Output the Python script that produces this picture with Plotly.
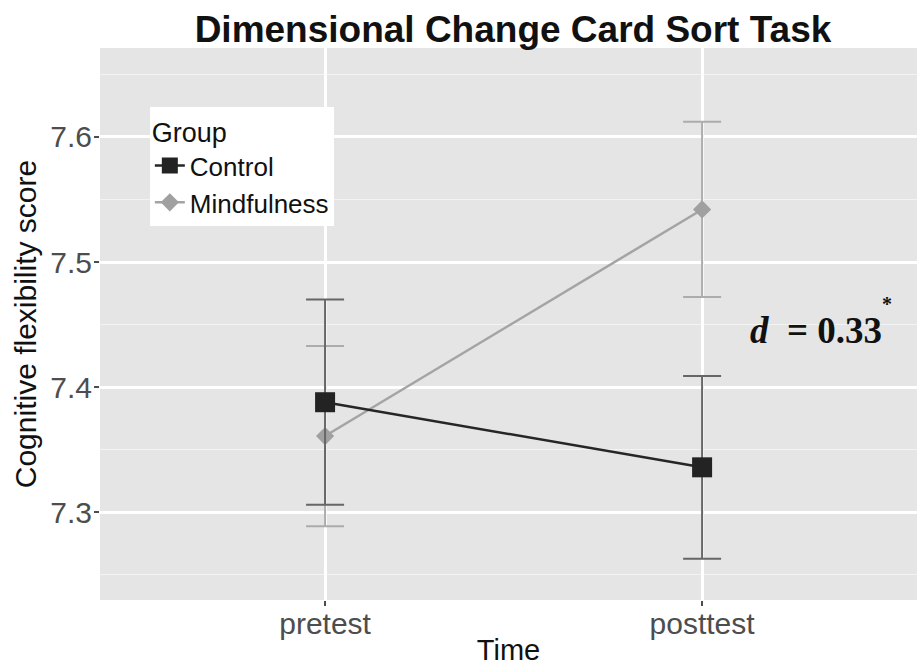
import plotly.graph_objects as go

times = ["pretest", "posttest"]
groups = ["Control", "Mindfulness"]
control_mean = [7.388, 7.336]
control_err = [0.082, 0.073]
mind_mean = [7.361, 7.542]
mind_err = [0.072, 0.070]
y_ticks = [7.3, 7.4, 7.5, 7.6]
x_pos = [0, 1]

fig = go.Figure()
fig.add_trace(go.Scatter(
    x=x_pos, y=mind_mean, name=groups[1], mode="lines+markers",
    line=dict(color="#a4a4a4", width=2.5),
    marker=dict(symbol="diamond", size=14, color="#a0a0a0"),
    error_y=dict(type="data", array=mind_err, color="#acacac", thickness=2, width=19),
))
fig.add_trace(go.Scatter(
    x=x_pos, y=control_mean, name=groups[0], mode="lines+markers",
    line=dict(color="#262626", width=2.5),
    marker=dict(symbol="square", size=20, color="#232323"),
    error_y=dict(type="data", array=control_err, color="#666666", thickness=2, width=19),
))

fig.add_annotation(
    x=1.122, y=7.4456, xref="x", yref="y", xanchor="left", yanchor="middle",
    text="<b><i>d</i>  = 0.33</b>", showarrow=False,
    font=dict(family="Liberation Serif", size=37, color="#111111"),
)
fig.add_annotation(
    x=1.491, y=7.4664, xref="x", yref="y", xanchor="center", yanchor="middle",
    text="<b>*</b>", showarrow=False,
    font=dict(family="Liberation Serif", size=20, color="#111111"),
)

fig.update_layout(
    width=917, height=669,
    margin=dict(l=100, r=0, t=48, b=69, autoexpand=False),
    paper_bgcolor="white", plot_bgcolor="#e5e5e5",
    font=dict(family="Liberation Sans", color="#4d4d4d"),
    title=dict(text="<b>Dimensional Change Card Sort Task</b>", x=0.5594, xanchor="center",
               xref="container", y=0.957, yref="container", yanchor="middle",
               font=dict(size=37, color="#111111")),
    legend=dict(
        x=0.061, y=0.893, xanchor="left", yanchor="top",
        bgcolor="white", borderwidth=0,
        title=dict(text="Group", font=dict(size=27, color="#111111")),
        font=dict(size=26, color="#111111"),
        traceorder="reversed", itemwidth=30, tracegroupgap=0,
    ),
    showlegend=True,
)
fig.update_xaxes(
    range=[-0.597, 1.570], tickvals=x_pos, ticktext=times, automargin=False,
    showgrid=True, gridcolor="white", gridwidth=2.5, zeroline=False,
    ticks="outside", ticklen=5, tickcolor="#4d4d4d", tickwidth=1.5,
    tickfont=dict(size=30, color="#4d4d4d"), ticklabelstandoff=-8,
    title=dict(text="Time", font=dict(size=29, color="#111111"), standoff=0),
)
fig.update_yaxes(
    range=[7.230, 7.671], tickvals=y_ticks, tickformat=".1f", automargin=False,
    showgrid=True, gridcolor="white", gridwidth=2.5, zeroline=False,
    minor=dict(dtick=0.05, tick0=7.25, showgrid=True, gridcolor="#f3f3f3", gridwidth=1.2),
    ticks="outside", ticklen=5, tickcolor="#4d4d4d", tickwidth=1.5,
    tickfont=dict(size=30, color="#4d4d4d"), ticklabelstandoff=-4,
    title=dict(text="Cognitive flexibility score", font=dict(size=30, color="#111111"), standoff=4),
)

fig.write_html(
    "out.html",
    config={"displayModeBar": False},
    post_script="document.body.style.margin='0';document.body.style.overflow='hidden';",
)
